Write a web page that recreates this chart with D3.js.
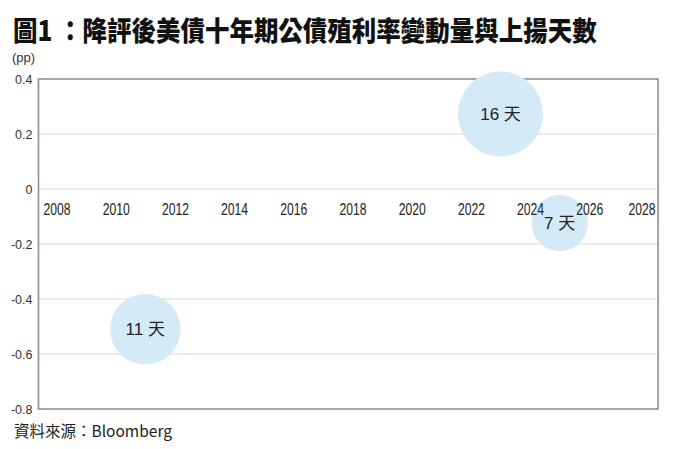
<!DOCTYPE html>
<html>
<head>
<meta charset="utf-8">
<script src="https://cdn.jsdelivr.net/npm/d3@7/dist/d3.min.js"></script>
<style>
  html, body { margin: 0; padding: 0; background: #ffffff; }
  svg { display: block; }
</style>
</head>
<body>
<svg id="chart" width="677" height="449"></svg>
<script>
// ---- Data ----
const titleText = "圖1 ：降評後美債十年期公債殖利率變動量與上揚天數";
const unitLabel = "(pp)";
const sourceText = "資料來源：Bloomberg";
const years = [2011, 2023, 2025];
const changes = [-0.51, 0.273, -0.124];
const days = [11, 16, 7];
const xTicks = [2008, 2010, 2012, 2014, 2016, 2018, 2020, 2022, 2024, 2026, 2028];
const yTicks = [0.4, 0.2, 0, -0.2, -0.4, -0.6, -0.8];

// ---- Layout ----
const svg = d3.select("#chart");
const plot = { left: 38.5, right: 658, top: 79, bottom: 409 };

const x = d3.scaleLinear().domain([2008, 2028]).range([56.5, 648.5]);
const y = d3.scaleLinear().domain([-0.8, 0.4]).range([plot.bottom, plot.top]);
const r = d3.scaleSqrt().domain([0, 16]).range([0, 42.5]);

const fmtY = d => d === 0 ? "0" : d3.format(".1f")(d).replace("\u2212", "-");

// Title
svg.append("text")
  .attr("transform", "translate(13,41) scale(1,1.13)")
  .style("font-family", "'Noto Sans CJK TC', 'Noto Sans CJK SC', sans-serif")
  .style("font-weight", 900)
  .style("font-size", "24.5px")
  .attr("fill", "#111")
  .text(titleText);

// Unit label
svg.append("text")
  .attr("x", 12).attr("y", 62)
  .style("font-family", "'Liberation Sans', Arial, sans-serif")
  .style("font-size", "13px")
  .attr("fill", "#333")
  .text(unitLabel);

// Gridlines
svg.append("g")
  .selectAll("line")
  .data(yTicks.filter(t => t !== 0.4 && t !== -0.8))
  .join("line")
  .attr("x1", plot.left).attr("x2", plot.right)
  .attr("y1", d => y(d)).attr("y2", d => y(d))
  .attr("stroke", "#d9d9d9")
  .attr("stroke-width", 1);

// Frame
svg.append("rect")
  .attr("x", plot.left).attr("y", plot.top)
  .attr("width", plot.right - plot.left)
  .attr("height", plot.bottom - plot.top)
  .attr("fill", "none")
  .attr("stroke", "#8f8f8f")
  .attr("stroke-width", 1.6);

// Bubbles
const bubbleData = years.map((yr, i) => ({ yr, v: changes[i], d: days[i] }));
svg.append("g")
  .selectAll("circle")
  .data(bubbleData)
  .join("circle")
  .attr("cx", d => x(d.yr))
  .attr("cy", d => y(d.v))
  .attr("r", d => r(d.d))
  .attr("fill", "#d4eaf7");

// Y axis
const yAxis = svg.append("g")
  .attr("transform", `translate(${plot.left},0)`)
  .call(d3.axisLeft(y).tickValues(yTicks).tickSize(0).tickPadding(6).tickFormat(fmtY));
yAxis.select(".domain").remove();
yAxis.selectAll("text")
  .style("font-family", "'Liberation Sans', Arial, sans-serif")
  .style("font-size", "12.5px")
  .attr("fill", "#333");

// X axis (labels along zero line)
const xAxis = svg.append("g")
  .attr("transform", `translate(0,${y(0)})`)
  .call(d3.axisBottom(x).tickValues(xTicks).tickSize(0).tickPadding(15).tickFormat(d3.format("d")));
xAxis.select(".domain").remove();
xAxis.selectAll("text")
  .style("font-family", "'Liberation Sans', Arial, sans-serif")
  .style("font-size", "16px")
  .attr("textLength", 27)
  .attr("lengthAdjust", "spacingAndGlyphs")
  .attr("fill", "#222")
  .attr("dx", (d, i) => i === xTicks.length - 1 ? -7 : 0);

// Bubble labels
svg.append("g")
  .selectAll("text")
  .data(bubbleData)
  .join("text")
  .attr("x", d => x(d.yr))
  .attr("y", d => y(d.v))
  .attr("dy", "0.36em")
  .attr("text-anchor", "middle")
  .style("font-family", "'Liberation Sans', 'Noto Sans CJK TC', sans-serif")
  .style("font-size", "17px")
  .attr("fill", "#222")
  .text(d => `${d.d} 天`);

// Source
svg.append("text")
  .attr("x", 14).attr("y", 437)
  .style("font-family", "'Noto Sans CJK TC', 'Liberation Sans', sans-serif")
  .style("font-size", "15.5px")
  .attr("fill", "#222")
  .text(sourceText);
</script>
</body>
</html>
